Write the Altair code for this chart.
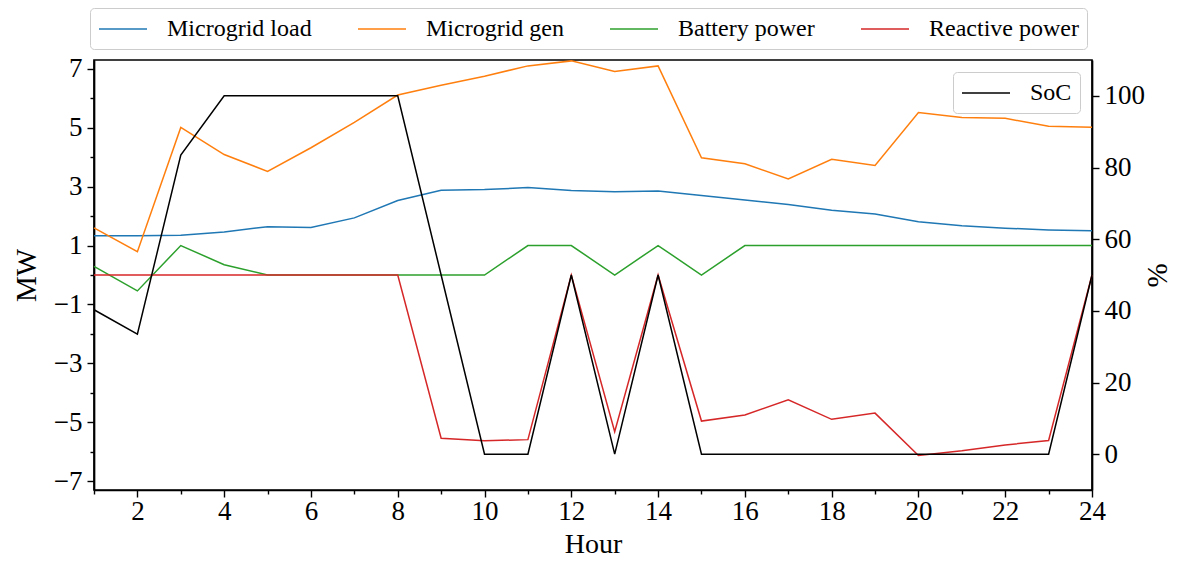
import altair as alt
import pandas as pd

# ---------------- data ----------------
hours = list(range(1, 25))
series_names = ["Microgrid load", "Microgrid gen", "Battery power", "Reactive power"]
series_colors = ["#1f77b4", "#ff7f0e", "#2ca02c", "#d62728"]

microgrid_load = [1.33, 1.33, 1.35, 1.46, 1.64, 1.61, 1.94, 2.53, 2.88, 2.90, 2.97, 2.87,
                  2.83, 2.85, 2.70, 2.55, 2.39, 2.20, 2.07, 1.81, 1.67, 1.59, 1.53, 1.50]
microgrid_gen = [1.60, 0.79, 5.01, 4.09, 3.52, 4.32, 5.18, 6.11, 6.44, 6.75, 7.10, 7.27,
                 6.91, 7.10, 3.98, 3.78, 3.26, 3.93, 3.72, 5.52, 5.35, 5.32, 5.05, 5.02]
battery_power = [0.29, -0.54, 1.0, 0.35, 0, 0, 0, 0, 0, 0, 1, 1,
                 0, 1, 0, 1, 1, 1, 1, 1, 1, 1, 1, 1]
reactive_power = [0, 0, 0, 0, 0, 0, 0, 0, -5.54, -5.63, -5.59, 0,
                  -5.32, 0, -4.96, -4.75, -4.24, -4.90, -4.69, -6.13, -5.97, -5.77, -5.62, 0]
soc = [40.3, 33.5, 83.5, 100, 100, 100, 100, 100, 50, 0, 0, 50,
       0, 50, 0, 0, 0, 0, 0, 0, 0, 0, 0, 50]

left_ticks = [-7, -6, -5, -4, -3, -2, -1, 0, 1, 2, 3, 4, 5, 6, 7]
right_ticks = [0, 20, 40, 60, 80, 100]

rows = []
for name, vals in zip(series_names, [microgrid_load, microgrid_gen, battery_power, reactive_power]):
    for h, v in zip(hours, vals):
        rows.append({"Hour": h, "MW": v, "Series": name})
df = pd.DataFrame(rows)
soc_df = pd.DataFrame({"Hour": hours, "SoC": soc, "Series": ["SoC"] * len(hours)})

FONT = "Liberation Serif"
W, H = 998, 430
LINE_SYMBOL = "M-1,0H3"

legend_common = dict(
    title=None,
    labelFont=FONT, labelFontSize=24, labelColor="black", labelLimit=300,
    symbolType=LINE_SYMBOL, symbolSize=576, symbolStrokeWidth=1.5,
    labelOffset=43, padding=8, strokeColor="#cccccc", fillColor="white",
    cornerRadius=4,
)

x_axis = alt.Axis(
    values=hours,
    title="Hour",
    labelExpr="datum.value % 2 == 0 ? datum.label : ''",
    tickSize={"condition": {"test": "datum.value % 2 == 1", "value": 4}, "value": 7},
    labelPadding=1,
    titleFontSize=28,
    titleX=W / 2, titleY=62, titleAlign="center", titleBaseline="alphabetic",
)
x_enc = alt.X("Hour:Q", scale=alt.Scale(domain=[1, 24], nice=False, zero=False), axis=x_axis)

left = alt.Chart(df).mark_line(strokeWidth=1.5).encode(
    x=x_enc,
    y=alt.Y(
        "MW:Q",
        scale=alt.Scale(domain=[-7.3, 7.3], nice=False, zero=False),
        axis=alt.Axis(
            orient="left",
            values=left_ticks,
            title="MW",
            labelExpr="abs(datum.value) % 2 == 1 ? datum.label : ''",
            tickSize={"condition": {"test": "abs(datum.value) % 2 == 0", "value": 4}, "value": 7},
            labelPadding=5,
            titleAngle=270, titleX=-59, titleY=H / 2, titleAlign="center", titleBaseline="alphabetic",
        ),
    ),
    color=alt.Color(
        "Series:N",
        sort=series_names,
        scale=alt.Scale(domain=series_names, range=series_colors),
        legend=alt.Legend(
            orient="none", legendX=-4, legendY=-52,
            direction="horizontal", columns=4, columnPadding=43, rowPadding=0,
            **legend_common,
        ),
    ),
)

right = alt.Chart(soc_df).mark_line(strokeWidth=1.5).encode(
    x=x_enc,
    y=alt.Y(
        "SoC:Q",
        scale=alt.Scale(domain=[-10, 110], nice=False, zero=False),
        axis=alt.Axis(
            orient="right",
            values=right_ticks,
            title="%",
            tickSize=7,
            labelPadding=5,
            titleAngle=270, titleX=74, titleY=H / 2, titleAlign="center", titleBaseline="alphabetic",
        ),
    ),
    color=alt.Color(
        "Series:N",
        scale=alt.Scale(domain=["SoC"], range=["black"]),
        legend=alt.Legend(orient="top-right", offset=12, **legend_common),
    ),
)

chart = (
    alt.layer(left, right)
    .resolve_scale(y="independent", color="independent")
    .properties(
        width=W, height=H,
        autosize=alt.AutoSizeParams(type="none"),
        padding={"left": 86, "top": 52, "right": 82, "bottom": 69},
        background="white",
    )
    .configure(font=FONT)
    .configure_view(stroke="black", strokeWidth=1.7)
    .configure_axis(
        grid=False, domainColor="black", domainWidth=1.7,
        tickColor="black", tickWidth=1.4,
        labelFont=FONT, labelFontSize=27, labelColor="black",
        titleFont=FONT, titleFontSize=29, titleColor="black", titleFontWeight="normal",
        labelOverlap=False, labelFlush=False,
    )
    .configure_legend(labelFont=FONT, titleFont=FONT)
)

chart.save("out.html", embed_options={"renderer": "svg", "actions": False})
